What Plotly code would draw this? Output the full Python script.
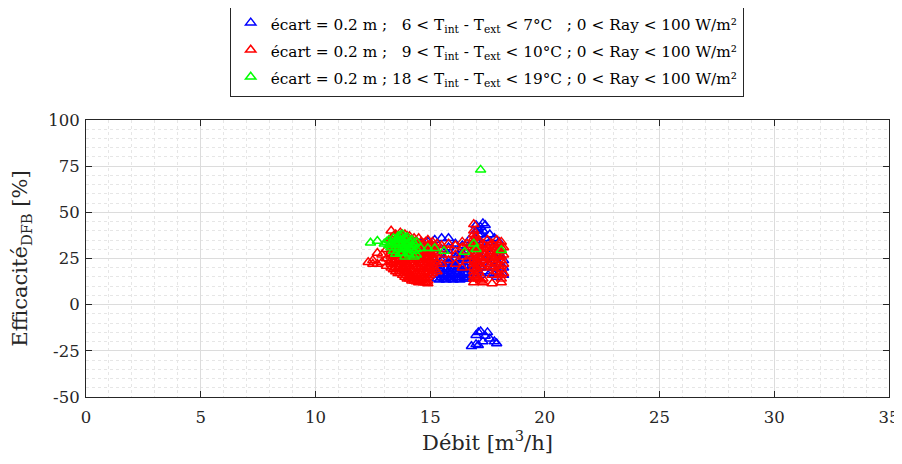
import plotly.graph_objects as go

# ---- data ----
blue_x = [14.6, 14.6, 14.6, 14.9, 14.9, 14.9, 15.2, 15.2, 15.2, 15.2,
          15.5, 15.5, 15.5, 15.5, 15.5, 15.8, 15.8, 15.8, 15.8, 15.8, 15.8,
          16.1, 16.1, 16.1, 16.1, 16.1, 16.1, 16.4, 16.4, 16.4, 16.4, 16.4,
          16.7, 16.7, 16.7, 16.7, 16.7, 16.7, 17.0, 17.0, 17.0, 17.0, 17.0, 17.0, 17.0,
          17.2, 17.2, 17.2, 17.2, 17.2, 17.2, 17.4, 17.4, 17.4, 17.4, 17.4,
          17.6, 17.6, 17.6, 17.6, 17.6, 17.8, 17.8, 17.8, 17.8, 17.8,
          18.0, 18.0, 18.0, 18.0, 18.2, 18.2, 18.2,
          15.3, 15.3, 15.3, 15.6, 15.6, 15.6, 15.6, 15.9, 15.9, 15.9, 15.9,
          16.2, 16.2, 16.2, 16.2, 16.2, 16.5, 16.5, 16.5, 16.5, 16.8, 16.8, 16.8,
          17.1, 17.1, 17.3, 17.3, 17.9, 17.9,
          15.4, 15.4, 15.4, 15.7, 15.7, 15.7, 15.7, 16.0, 16.0, 16.0, 16.0,
          16.3, 16.3, 16.3, 16.3, 16.6, 16.6, 16.6,
          16.8, 17.0, 17.1, 17.0, 17.1, 17.2, 17.4, 17.5, 17.6, 17.8, 17.9, 17.3]
blue_y = [24, 28, 33, 20, 26, 34, 16, 22, 28, 35,
          15, 19, 24, 30, 36, 15, 18, 22, 27, 31, 36,
          15, 18, 21, 25, 29, 33, 16, 20, 24, 28, 32,
          15, 19, 23, 27, 31, 35, 17, 21, 25, 30, 35, 40, 43,
          16, 20, 26, 32, 38, 42, 18, 24, 30, 36, 43,
          17, 22, 28, 34, 38, 16, 20, 26, 32, 36,
          17, 22, 28, 34, 16, 20, 24,
          14, 18, 21, 14, 17, 20, 25, 14, 16.5, 20, 23,
          14, 17, 20, 23, 27, 14, 17, 21, 25, 16, 21, 25,
          38, 41, 40, 44, 18, 15,
          13.5, 16, 19, 13.5, 16, 19, 22, 13.5, 16, 19, 22,
          13.5, 16, 19, 22, 14, 17, 20,
          -22.5, -21.5, -22, -16.5, -15, -14.5, -17, -15, -18.5, -20, -21, -20]

red_x = [12.3, 12.5, 12.5, 12.7, 12.7, 12.9, 12.9, 13.1, 13.1, 13.1,
         13.3, 13.3, 13.3, 13.3, 13.3,
         13.5, 13.5, 13.5, 13.5, 13.5, 13.5,
         13.7, 13.7, 13.7, 13.7, 13.7, 13.7, 13.7,
         13.9, 13.9, 13.9, 13.9, 13.9, 13.9, 13.9,
         14.1, 14.1, 14.1, 14.1, 14.1, 14.1, 14.1,
         14.3, 14.3, 14.3, 14.3, 14.3, 14.3, 14.3,
         14.5, 14.5, 14.5, 14.5, 14.5, 14.5, 14.5,
         14.7, 14.7, 14.7, 14.7, 14.7, 14.7,
         14.9, 14.9, 14.9, 14.9, 14.9, 14.9, 14.9,
         15.1, 15.1, 15.1, 15.1, 15.1,
         15.3, 15.3, 15.3, 15.3,
         15.5, 15.5, 15.5, 15.8, 15.8, 15.8, 16.1, 16.1, 16.1,
         16.4, 16.4, 16.4, 16.4, 16.6, 16.6, 16.6,
         16.9, 16.9, 16.9, 16.9, 16.9, 16.9, 16.9, 16.9, 16.9,
         17.1, 17.1, 17.1, 17.1, 17.1, 17.1,
         17.3, 17.3, 17.3, 17.3, 17.5, 17.5, 17.5, 17.5,
         17.7, 17.7, 17.7, 17.7, 17.7, 17.9, 17.9, 17.9, 17.9, 17.9,
         18.1, 18.1, 18.1, 18.1, 18.1, 18.1,
         13.4, 13.4, 13.4, 13.4, 13.4,
         13.6, 13.6, 13.6, 13.6, 13.6, 13.6,
         13.8, 13.8, 13.8, 13.8, 13.8, 13.8, 13.8,
         14.0, 14.0, 14.0, 14.0, 14.0, 14.0, 14.0,
         14.2, 14.2, 14.2, 14.2, 14.2, 14.2, 14.2,
         14.4, 14.4, 14.4, 14.4, 14.4, 14.4,
         14.6, 14.6, 14.6, 14.6, 14.6, 14.6,
         14.8, 14.8, 14.8, 14.8, 14.8, 14.8, 14.8,
         15.0, 15.0, 15.0, 15.0, 15.0,
         15.2, 15.2, 15.2, 15.2,
         17.0, 17.0, 17.0, 17.0, 17.0, 17.0,
         17.2, 17.2, 17.2, 17.2,
         17.6, 17.6, 17.6, 17.6,
         18.0, 18.0, 18.0, 18.0, 18.0,
         18.2, 18.2, 18.2, 18.2,
         13.3, 13.3, 13.3, 13.3,
         13.5, 13.5, 13.5, 13.5,
         13.7, 13.7, 13.7, 13.7, 13.7,
         13.9, 13.9, 13.9, 13.9, 13.9,
         14.1, 14.1, 14.1, 14.1, 14.1, 14.1,
         14.3, 14.3, 14.3, 14.3, 14.3, 14.3,
         14.5, 14.5, 14.5, 14.5, 14.5, 14.5,
         14.7, 14.7, 14.7, 14.7, 14.7,
         14.9, 14.9, 14.9, 14.9, 14.9,
         15.1, 15.1, 15.1, 15.1,
         16.9, 16.9, 16.9, 16.9, 16.9, 16.9, 16.9,
         17.3, 17.3, 17.3, 17.3,
         17.7, 17.7, 17.7, 17.7,
         18.1, 18.1, 18.1, 18.1]
red_y = [23, 24, 22, 22, 28, 23, 27, 21, 25, 30,
         20, 24, 29, 34, 40,
         18, 22, 26, 30, 35, 38,
         17, 21, 25, 29, 33, 37, 39,
         15, 19, 23, 27, 31, 35, 38,
         14, 17, 21, 25, 29, 33, 37,
         13, 16, 20, 24, 28, 32, 36,
         12, 15, 19, 23, 27, 31, 36,
         12, 16, 20, 24, 28, 33,
         11.5, 15, 19, 23, 27, 32, 35,
         17, 21, 25, 30, 34,
         18, 23, 28, 33,
         22, 27, 32, 24, 29, 33, 22, 27, 32,
         20, 26, 31, 34, 24, 29, 33,
         12, 16, 20, 24, 28, 32, 36, 40, 43.5,
         14, 18, 22, 26, 30, 34,
         12, 24, 28, 33, 22, 26, 31, 35,
         11.5, 20, 25, 29, 33, 18, 23, 27, 31, 35,
         12, 14, 19, 24, 29, 34,
         19, 23, 27, 32, 37,
         17, 20, 24, 28, 31, 36,
         16, 20, 24, 27, 30, 34, 37,
         14, 18, 22, 26, 30, 34, 37,
         13, 15, 19, 23, 27, 31, 35,
         12.5, 17, 21, 25, 29, 34,
         13, 17, 22, 26, 30, 34,
         12, 14, 18, 22, 26, 30, 34,
         16, 20, 24, 28, 32,
         19, 24, 29, 31,
         15, 19, 23, 27, 31, 37,
         13, 21, 25, 30,
         21, 24, 28, 32,
         16, 21, 26, 30, 33,
         17, 22, 27, 31,
         22, 26, 31, 36,
         20, 24, 28, 32,
         19, 23, 27, 31, 35,
         17, 21, 25, 29, 33,
         15.5, 19, 23, 27, 31, 35,
         14.5, 18, 22, 26, 30, 34,
         13.5, 17, 21, 25, 29, 33,
         14, 18, 22, 26, 30,
         13, 17, 21, 25, 29,
         19, 23, 27, 32,
         14, 18, 22, 26, 30, 34, 38,
         14, 20, 26, 30,
         16, 23, 27, 31,
         16, 21, 26, 31]

green_x = [12.4, 12.7, 13.0, 13.2, 13.3, 13.4, 13.5, 13.6, 13.6, 13.7,
           13.8, 13.8, 13.9, 14.0, 14.0, 14.1, 14.2, 14.2, 14.3, 14.3,
           13.9, 13.5, 14.6, 14.9, 15.2, 16.9, 17.0, 17.2, 18.1, 15.6, 16.5,
           13.5, 13.7, 13.7, 13.9, 13.9, 14.1, 14.1, 14.3, 14.4, 13.6,
           13.8, 14.0, 13.3, 13.8, 13.2, 14.4,
           13.1, 13.4, 13.6, 13.8, 14.0, 14.2, 14.4, 13.7]
green_y = [33.5, 34.5, 33, 35, 31, 36, 33, 30, 37, 34,
           31, 28, 36, 33, 30, 27, 35, 32, 29, 26,
           26, 27.5, 30.5, 30.5, 30.5, 33, 30, 73, 29.5, 29, 28.5,
           35, 32, 28, 33, 30, 34, 31, 33, 30, 33.5,
           35, 36.5, 33, 38, 32, 27,
           34, 29, 35.5, 33, 28, 30, 34, 37.5]

y_tickvals = [-50, -25, 0, 25, 50, 75, 100]
y_ticktext = ["-50", "-25", "0", "25", "50", "75", "100"]
x_tickvals = [0, 5, 10, 15, 20, 25, 30, 35]

sp = "\u00a0"
labels = [
    f"écart = 0.2 m ;{sp*3}6 < T<sub>int</sub> - T<sub>ext</sub> < 7°C{sp*3}; 0 < Ray < 100 W/m²",
    f"écart = 0.2 m ;{sp*3}9 < T<sub>int</sub> - T<sub>ext</sub> < 10°C ; 0 < Ray < 100 W/m²",
    f"écart = 0.2 m ; 18 < T<sub>int</sub> - T<sub>ext</sub> < 19°C ; 0 < Ray < 100 W/m²",
]
names = [f"<span style='font-size:15.3px'>{s}</span>" for s in labels]
colors = ["#0000ff", "#ff0000", "#00ff00"]
xs = [blue_x, red_x, green_x]
ys = [blue_y, red_y, green_y]

font_family = "DejaVu Serif, serif"
txt = "#262626"

fig = go.Figure()
for x, y, n, c in zip(xs, ys, names, colors):
    fig.add_trace(go.Scatter(
        x=x, y=y, mode="markers", name=n,
        marker=dict(symbol="triangle-up-open", size=9, color=c,
                    line=dict(width=1.5, color=c)),
    ))

axis_common = dict(
    showline=True, linecolor=txt, linewidth=1, mirror="ticks",
    ticks="inside", ticklen=6, tickcolor=txt,
    showgrid=True, gridcolor="#dcdcdc", gridwidth=1,
    zeroline=False,
    tickfont=dict(family=font_family, size=16.5, color=txt),
)

fig.update_xaxes(
    range=[0, 35], tickvals=x_tickvals, ticklabelstandoff=5,
    title=dict(text="Débit [m<sup>3</sup>/h]", font=dict(family=font_family, size=21, color=txt), standoff=9),
    minor=dict(dtick=1, showgrid=True, gridcolor="#e6e6e6", griddash="dot", gridwidth=1),
    **axis_common,
)
fig.update_yaxes(
    range=[-50, 100], tickvals=y_tickvals, ticktext=y_ticktext, ticklabelstandoff=2,
    title=dict(text="Efficacité<sub>DFB</sub> [%]", font=dict(family=font_family, size=21, color=txt), standoff=14),
    minor=dict(dtick=5, showgrid=True, gridcolor="#e6e6e6", griddash="dot", gridwidth=1),
    **axis_common,
)

fig.update_layout(
    width=902, height=464,
    margin=dict(l=78, r=21, t=112, b=75, autoexpand=False),
    paper_bgcolor="white", plot_bgcolor="white",
    showlegend=True,
    legend=dict(
        x=0.499, xanchor="center", y=1.422, yanchor="top",
        bgcolor="white", bordercolor=txt, borderwidth=1,
        font=dict(family=font_family, size=18.5, color="#000000"),
        tracegroupgap=0,
    ),
)

fig.write_html("out.html")
